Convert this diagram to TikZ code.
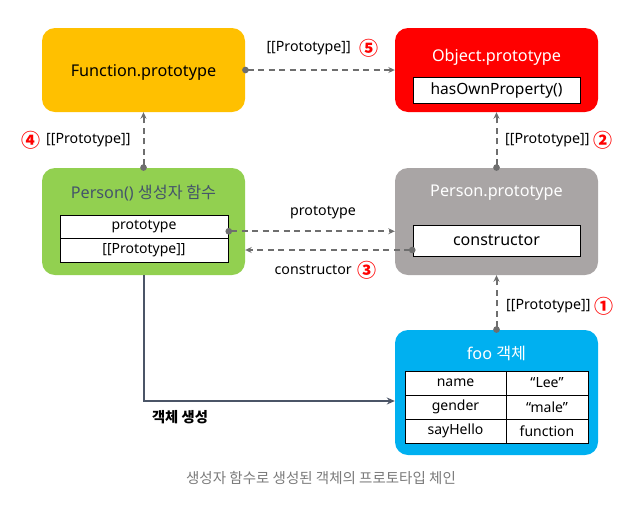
\documentclass[tikz,border=0pt]{standalone}
\usepackage{fontspec}
\setmainfont{Noto Sans}
\newfontfamily\kr{Noto Sans CJK KR}
\usetikzlibrary{arrows.meta}
\definecolor{cfunc}{HTML}{FFC000}
\definecolor{cobj}{HTML}{FF0000}
\definecolor{cperson}{HTML}{92D050}
\definecolor{cpproto}{HTML}{A9A5A5}
\definecolor{cfoo}{HTML}{00B0F0}
\definecolor{cconn}{HTML}{6E6E6E}
\definecolor{csolid}{HTML}{4B5567}
\definecolor{ctitle}{HTML}{44546A}
\definecolor{ccap}{HTML}{7A7A7A}
\tikzset{
  bigbox/.style={rounded corners=13pt, draw=none, minimum width=203pt, minimum height=84pt, inner sep=0pt},
  titletext/.style={font=\fontsize{16.2}{19}\selectfont, inner sep=0pt},
  cell/.style={draw=black, line width=1pt, fill=white, inner sep=0pt, font=\fontsize{14}{16}\selectfont},
  lbl/.style={font=\fontsize{14.2}{17}\selectfont, inner sep=0pt},
  numb/.style={font=\kr\bfseries\fontsize{19}{20}\selectfont, text=red, inner sep=0pt},
  dashconn/.style={draw=cconn, line width=2pt, dash pattern=on 6pt off 4.5pt,
    {Circle[length=6.5pt]}-{Stealth[length=6.5pt,width=6pt]}, shorten <=-3pt},
  solidconn/.style={draw=csolid, line width=2pt, -{Stealth[length=8pt,width=7pt]}}
}
\begin{document}
\begin{tikzpicture}[x=1pt,y=-1pt]
\useasboundingbox (0,0) rectangle (639,507);
% boxes
\node[bigbox, fill=cfunc, minimum height=84pt] (func) at (143.5,70) {};
\node[titletext, text=black] (functitle) at (143.5,72) {Function.prototype};
\node[bigbox, fill=cobj] (obj) at (496.5,70) {};
\node[titletext, text=white] (objtitle) at (496.5,57) {Object.prototype};
\node[cell, minimum width=167pt, minimum height=26pt, font=\fontsize{15.5}{18}\selectfont] (hasown) at (496.5,90) {hasOwnProperty()};

\node[bigbox, fill=cperson, minimum height=107pt] (person) at (143.5,221.5) {};
\node[titletext, text=ctitle] (persontitle) at (143.5,193) {Person() {\kr 생성자 함수}};
\node[cell, minimum width=168pt, minimum height=23.5pt] (protorow) at (144,226.75) {prototype};
\node[cell, minimum width=168pt, minimum height=23.5pt] (pprow) at (144,250.25) {[[Prototype]]};

\node[bigbox, fill=cpproto, minimum height=107pt] (pproto) at (496.5,221.5) {};
\node[titletext, text=white] (pprototitle) at (496.5,193) {Person.prototype};
\node[cell, minimum width=167pt, minimum height=31pt, font=\fontsize{16}{18}\selectfont] (ctor) at (496.5,240.5) {constructor};

\node[bigbox, fill=cfoo, minimum height=125pt] (foo) at (496.5,392.5) {};
\node[titletext, text=white] (footitle) at (496.5,353) {foo {\kr 객체}};
\node[cell, minimum width=101pt, minimum height=24pt] (c11) at (455.5,383) {name};
\node[cell, minimum width=82pt, minimum height=24pt] (c12) at (547,383) {“Lee”};
\node[cell, minimum width=101pt, minimum height=24pt] (c21) at (455.5,407) {gender};
\node[cell, minimum width=82pt, minimum height=24pt] (c22) at (547,407) {“male”};
\node[cell, minimum width=101pt, minimum height=24pt] (c31) at (455.5,431) {sayHello};
\node[cell, minimum width=82pt, minimum height=24pt] (c32) at (547,431) {function};

% connectors
\draw[dashconn] (func.east) -- (obj.west);
\draw[dashconn] (person.north) -- (func.south);
\draw[dashconn] (pproto.north) -- (obj.south);
\draw[dashconn] (foo.north) -- (pproto.south);
\coordinate (pa) at ([yshift=-4.5pt]protorow.east);
\draw[dashconn] (pa) -- (pa -| pproto.west);
\coordinate (ca) at ([yshift=-9.5pt]ctor.west);
\draw[dashconn] (ca) -- (ca -| person.east);
\coordinate (fa) at ([yshift=-8.5pt]foo.west);
\draw[solidconn] (person.south) |- (fa);

% labels
\node[lbl, anchor=east] (l5) at (351,48) {[[Prototype]]};
\node[numb, anchor=west] (n5) at ([xshift=8pt]l5.east) {⑤};
\node[lbl, anchor=west] (l4) at (46,140) {[[Prototype]]};
\node[numb, anchor=east] (n4) at ([xshift=-5pt]l4.west) {④};
\node[lbl, anchor=west] (l2) at (505,140) {[[Prototype]]};
\node[numb, anchor=west] (n2) at ([xshift=4pt]l2.east) {②};
\node[lbl, anchor=west] (l1) at (506,306) {[[Prototype]]};
\node[numb, anchor=west] (n1) at ([xshift=4pt]l1.east) {①};
\node[lbl] (lproto) at (323,213) {prototype};
\node[lbl, anchor=east] (lctor) at (352,270) {constructor};
\node[numb, anchor=west] (n3) at ([xshift=5pt]lctor.east) {③};
\node[lbl, font=\kr\bfseries\fontsize{14.3}{16}\selectfont] (lcreate) at (180,417) {객체 생성};
\node[font=\kr\fontsize{14.5}{16}\selectfont, text=ccap] (caption) at (321,478) {생성자 함수로 생성된 객체의 프로토타입 체인};
\end{tikzpicture}
\end{document}
